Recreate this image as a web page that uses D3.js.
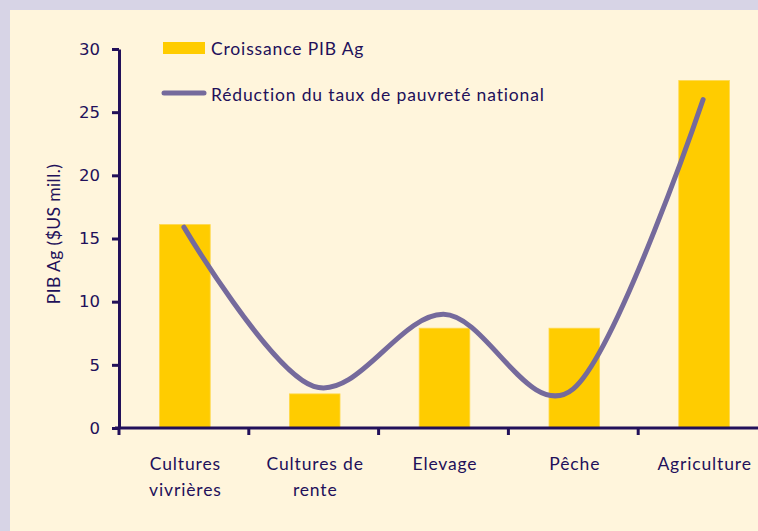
<!DOCTYPE html>
<html>
<head>
<meta charset="utf-8">
<script src="https://cdn.jsdelivr.net/npm/d3@7"></script>
<style>
html,body{margin:0;padding:0;background:#D7D4E6;}
svg{display:block;}
</style>
</head>
<body>
<svg id="chart" width="758" height="531"></svg>
<script>
const categories = [["Cultures","vivrières"],["Cultures de","rente"],["Elevage"],["Pêche"],["Agriculture"]];
const barValues = [16.1, 2.7, 7.9, 7.9, 27.5];
const lineValues = [15.9, 3.3, 9.0, 3.1, 26.0];
const yTicks = [0, 5, 10, 15, 20, 25, 30];
const barLabel = "Croissance PIB Ag";
const lineLabel = "Réduction du taux de pauvreté national";
const yTitle = "PIB Ag ($US mill.)";

const W = 758, H = 531;
const axisColor = "#22105A";
const textColor = "#22105A";
const barColor = "#FFCC00";
const lineColor = "#756A9C";
const catFont = "Lato, 'Open Sans', sans-serif";
const ls = "0.85px";

const svg = d3.select("#chart");
svg.append("rect").attr("x",10).attr("y",10).attr("width",W-10).attr("height",H-10).attr("fill","#FFF5DC");

const idx = categories.map((d,i)=>i);
const x = d3.scaleBand().domain(idx).range([119, 119 + 5*129.8]).paddingInner(0).paddingOuter(0);
const y = d3.scaleLinear().domain([0,30]).range([428, 49]);

// bars
const bw = x.bandwidth()*0.39;
svg.append("g").selectAll("rect").data(barValues).join("rect")
  .attr("x",(d,i)=>x(i)+x.bandwidth()/2 - bw/2 + 1)
  .attr("y",d=>y(d))
  .attr("width",bw)
  .attr("height",d=>y(0)-y(d))
  .attr("fill",barColor)
  .attr("stroke","#FFD84A").attr("stroke-width",0.8);

// line
const line = d3.line()
  .x((d,i)=>x(i)+x.bandwidth()/2)
  .y(d=>y(d))
  .curve(d3.curveCatmullRom.alpha(0));
svg.append("path").datum(lineValues)
  .attr("d",line)
  .attr("fill","none")
  .attr("stroke",lineColor)
  .attr("stroke-width",5)
  .attr("stroke-linecap","round");

// y axis
const yAxis = d3.axisLeft(y).tickValues(yTicks).tickSize(7).tickSizeOuter(0).tickPadding(12);
const gy = svg.append("g").attr("transform","translate(119,0)").call(yAxis);
gy.select(".domain").attr("stroke",axisColor).attr("stroke-width",3);
gy.selectAll(".tick line").attr("stroke",axisColor).attr("stroke-width",3);
gy.selectAll(".tick text").attr("fill",textColor).attr("font-family","'DejaVu Sans', Verdana, sans-serif").attr("font-size","16.5px");

// x axis
const xAxis = d3.axisBottom(x).tickSize(0).tickFormat("");
const gx = svg.append("g").attr("transform","translate(0,428)").call(xAxis);
gx.select(".domain").remove();
gx.append("line").attr("x1",115).attr("x2",W+20).attr("y1",0).attr("y2",0).attr("stroke",axisColor).attr("stroke-width",3);
const boundaries = idx.map(i=>x(i));
gx.selectAll(".bt").data(boundaries).join("line").attr("class","bt")
  .attr("x1",d=>d).attr("x2",d=>d).attr("y1",0).attr("y2",7)
  .attr("stroke",axisColor).attr("stroke-width",3);

// category labels
const lab = svg.append("g");
categories.forEach((lines,i)=>{
  const cx = x(i)+x.bandwidth()/2 + 1.5;
  const t = lab.append("text")
    .attr("x",cx)
    .attr("y",470)
    .attr("text-anchor","middle")
    .attr("fill",textColor)
    .attr("font-family",catFont)
    .attr("font-size","17.5px")
    .attr("letter-spacing",ls);
  lines.forEach((l,j)=>{
    t.append("tspan").attr("x",cx).attr("dy", j===0?0:26).text(l);
  });
});

// y title
svg.append("text")
  .attr("transform","translate(60,234) rotate(-90)")
  .attr("text-anchor","middle")
  .attr("fill",textColor)
  .attr("font-family",catFont)
  .attr("font-size","17.5px")
  .attr("letter-spacing","0.4px")
  .text(yTitle);

// legend
const lg = svg.append("g");
lg.append("rect").attr("x",163).attr("y",42).attr("width",42).attr("height",12).attr("fill",barColor);
lg.append("text").attr("x",211).attr("y",55).attr("fill",textColor).attr("font-family",catFont).attr("font-size","17.5px").attr("letter-spacing",ls).text(barLabel);
lg.append("line").attr("x1",164).attr("x2",204).attr("y1",93).attr("y2",93).attr("stroke",lineColor).attr("stroke-width",5).attr("stroke-linecap","round");
lg.append("text").attr("x",211).attr("y",101).attr("fill",textColor).attr("font-family",catFont).attr("font-size","17.5px").attr("letter-spacing",ls).text(lineLabel);
</script>
</body>
</html>
